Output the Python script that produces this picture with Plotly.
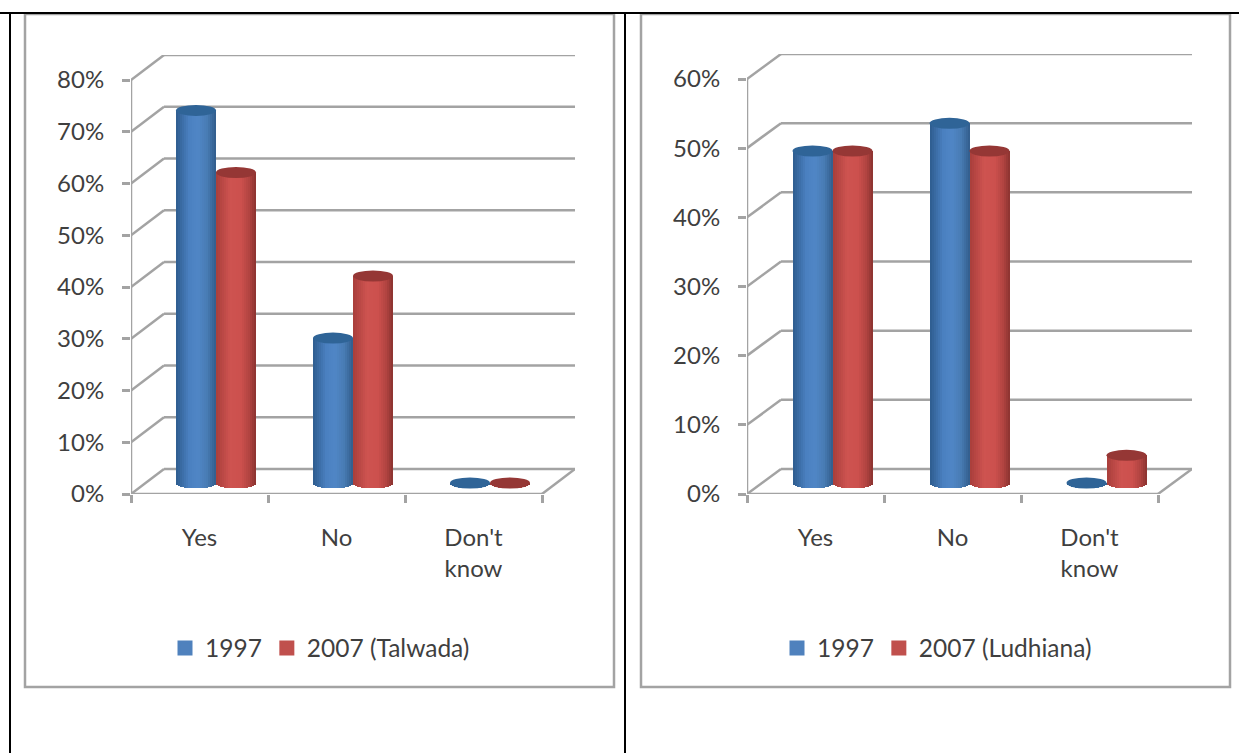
import math
import plotly.graph_objects as go

WIDTH, HEIGHT = 1239, 753

# Survey answers, in percent
CATEGORIES = ["Yes", "No", "Don't<br>know"]
TALWADA_1997 = [72, 28, 0]
TALWADA_2007 = [60, 40, 0]
LUDHIANA_1997 = [48, 52, 0]
LUDHIANA_2007 = [48, 48, 4]
TALWADA_TICKS = [0, 10, 20, 30, 40, 50, 60, 70, 80]
LUDHIANA_TICKS = [0, 10, 20, 30, 40, 50, 60]
SERIES_1997 = "1997"
SERIES_TALWADA = "2007 (Talwada)"
SERIES_LUDHIANA = "2007 (Ludhiana)"

# Cylinder shading from left edge to right edge: (position, rgb)
BLUE_STOPS = [(-1, (46, 92, 142)), (-0.35, (74, 128, 192)), (0.1, (80, 134, 198)),
              (0.55, (72, 124, 180)), (1, (50, 92, 140))]
RED_STOPS = [(-1, (168, 62, 59)), (-0.3, (206, 83, 80)), (0.25, (204, 80, 77)),
             (0.65, (178, 68, 65)), (1, (138, 50, 48))]
BLUE_FLAT, RED_FLAT = "#4F81BD", "#C0504D"
BLUE_CAP, RED_CAP = "#2F6497", "#953735"
GREY = "#A3A3A3"
TEXT = "#3F3F3F"
FONT = "Lato"
TICK_SIZE = 24
LEGEND_SIZE = 24.5
STRIPS = 20


def shade(stops, u):
    for (u0, c0), (u1, c1) in zip(stops, stops[1:]):
        if u <= u1:
            t = (u - u0) / (u1 - u0)
            rgb = [round(a + (b - a) * t) for a, b in zip(c0, c1)]
            return f"rgb({rgb[0]},{rgb[1]},{rgb[2]})"
    return f"rgb{stops[-1][1]}"


def px_x(x):
    return x / WIDTH


def px_y(y):
    return 1 - y / HEIGHT


fig = go.Figure()
shapes = []


def panel(suffix, left, right_front, right_back, top_tick_px, ticks, vals_a, vals_b,
          name_b, legend_name):
    """One 3-D styled cylinder chart; pixel arguments place its axes on the page."""
    bottom = 494
    depth_px_x, depth_px_y = right_back - right_front, 25
    per_cat = (right_front - left) / len(CATEGORIES)
    per_unit = (bottom - top_tick_px) / ticks[-1]
    dx = depth_px_x / per_cat
    dy = depth_px_y / per_unit
    x_ref, y_ref = f"x{suffix}", f"y{suffix}"
    n = len(CATEGORIES)
    centres = [i + 0.5 for i in range(n)]

    fig.update_layout({
        f"xaxis{suffix}": dict(
            domain=[px_x(left), px_x(right_back)], range=[0, n + dx], anchor=y_ref,
            showgrid=False, zeroline=False, showline=False,
            tickvals=centres, ticktext=CATEGORIES, ticks="outside", ticklen=22,
            tickcolor="rgba(0,0,0,0)", tickfont=dict(family=FONT, size=TICK_SIZE, color=TEXT),
            minor=dict(tickvals=list(range(n + 1)), ticks="outside", ticklen=8,
                       tickwidth=2.5, tickcolor=GREY),
        ),
        f"yaxis{suffix}": dict(
            domain=[px_y(bottom), px_y(top_tick_px - depth_px_y)],
            range=[0, ticks[-1] + dy], anchor=x_ref,
            showgrid=False, zeroline=False, showline=False,
            tickvals=ticks, ticktext=[f"{t}%" for t in ticks], ticks="outside",
            ticklen=8, tickwidth=2.5, tickcolor=GREY, ticklabelstandoff=13,
            tickfont=dict(family=FONT, size=TICK_SIZE, color=TEXT),
        ),
    })

    def line(x0, y0, x1, y1):
        shapes.append(dict(type="line", xref=x_ref, yref=y_ref, x0=x0, y0=y0, x1=x1, y1=y1,
                           layer="below", line=dict(color=GREY, width=2.5)))

    # Walls and floor, behind the cylinders
    line(0, 0, 0, ticks[-1])
    line(0, 0, n, 0)
    line(n, 0, n + dx, dy)
    for t in ticks:
        line(0, t, dx, t + dy)
        line(dx, t + dy, n + dx, t + dy)

    half_w = 20 / per_cat
    cap_h = 5.5 / per_unit
    mid_x = dx / 2
    mid_y = 11 / per_unit

    for side, vals, stops, cap, flat, label in (
        (-1, vals_a, BLUE_STOPS, BLUE_CAP, BLUE_FLAT, SERIES_1997),
        (1, vals_b, RED_STOPS, RED_CAP, RED_FLAT, name_b),
    ):
        # Flat-coloured entry for the legend
        fig.add_trace(go.Bar(x=[None], y=[None], name=label, marker=dict(
            color=flat, line=dict(color=flat, width=3)),
            xaxis=x_ref, yaxis=y_ref, legend=legend_name, showlegend=True))
        for s in range(STRIPS):
            u = (s + 0.5) / STRIPS * 2 - 1
            base_drop = cap_h * math.sqrt(1 - u * u)
            left_edge = (0 if side > 0 else -2 * half_w) + s * 2 * half_w / STRIPS
            fig.add_trace(go.Bar(
                x=[c + mid_x for c in centres],
                y=[v + base_drop for v in vals],
                base=[mid_y - base_drop] * n,
                offset=left_edge, width=2 * half_w / STRIPS,
                marker=dict(color=shade(stops, u), line=dict(width=0)),
                xaxis=x_ref, yaxis=y_ref, showlegend=False, hoverinfo="skip",
            ))
        # Elliptical top of each cylinder
        for c, v in zip(centres, vals):
            cx = c + mid_x + side * half_w
            shapes.append(dict(type="circle", xref=x_ref, yref=y_ref,
                               x0=cx - half_w, x1=cx + half_w,
                               y0=v + mid_y - cap_h, y1=v + mid_y + cap_h,
                               fillcolor=cap, line=dict(width=0), layer="above"))


panel("", 131, 542, 575, 80, TALWADA_TICKS, TALWADA_1997, TALWADA_2007, SERIES_TALWADA, "legend")
panel("2", 747, 1158, 1192, 79, LUDHIANA_TICKS, LUDHIANA_1997, LUDHIANA_2007, SERIES_LUDHIANA, "legend2")


def page_rect(x0, y0, x1, y1, color, width):
    shapes.insert(0, dict(type="rect", xref="paper", yref="paper",
                          x0=px_x(x0), x1=px_x(x1), y0=px_y(y1), y1=px_y(y0),
                          line=dict(color=color, width=width), layer="below"))


def page_line(x0, y0, x1, y1):
    shapes.append(dict(type="line", xref="paper", yref="paper",
                       x0=px_x(x0), x1=px_x(x1), y0=px_y(y0), y1=px_y(y1),
                       line=dict(color="#000000", width=2), layer="above"))


# Chart frames and the table rules around them
page_rect(25, 14, 614, 687, GREY, 2.5)
page_rect(641, 14, 1230, 687, GREY, 2.5)
page_line(0, 13, WIDTH, 13)
page_line(10, 13, 10, HEIGHT)
page_line(625, 13, 625, HEIGHT)

legend_style = dict(orientation="h", xanchor="left", yanchor="middle",
                    bgcolor="rgba(0,0,0,0)", font=dict(family=FONT, size=LEGEND_SIZE, color=TEXT),
                    itemclick=False, itemdoubleclick=False)
fig.update_layout(
    width=WIDTH, height=HEIGHT, margin=dict(l=0, r=0, t=0, b=0, autoexpand=False), autosize=False,
    paper_bgcolor="white", plot_bgcolor="rgba(0,0,0,0)", barmode="overlay", bargap=0,
    showlegend=True, shapes=shapes,
    legend=dict(x=px_x(165), y=px_y(648), **legend_style),
    legend2=dict(x=px_x(777), y=px_y(648), **legend_style),
)

fig.write_html("out.html", config={"responsive": False},
               default_width=f"{WIDTH}px", default_height=f"{HEIGHT}px")
